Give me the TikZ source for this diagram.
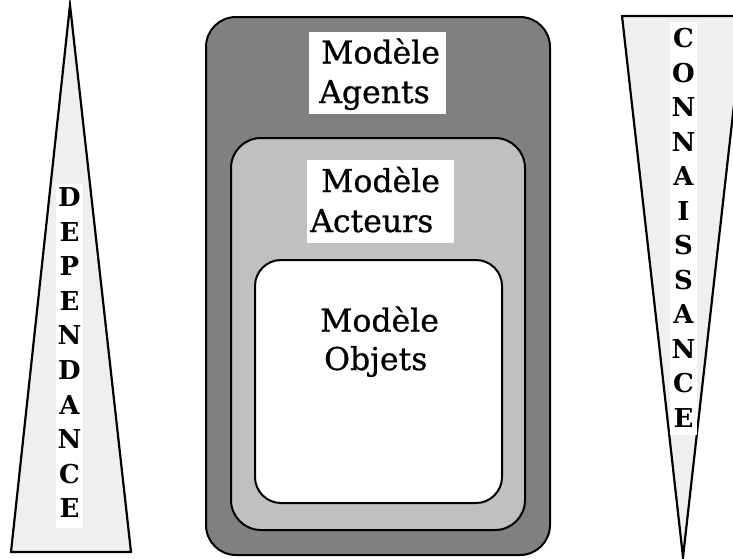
\documentclass[tikz,border=0pt]{standalone}
\usepackage{fontspec}
\setmainfont{DejaVu Serif}
\newfontfamily\lblfont{DejaVu Serif}[FakeBold=0.8]
\definecolor{gOuter}{RGB}{128,128,128}
\definecolor{gMiddle}{RGB}{192,192,192}
\definecolor{gTri}{RGB}{239,239,239}
\begin{document}
\begin{tikzpicture}[x=1pt,y=-1pt,
  frame/.style={draw=black, line width=2pt},
  tri/.style={draw=black, line width=2.2pt, fill=gTri},
  lbl/.style={font=\lblfont\fontsize{31.5}{40}\selectfont, inner sep=0pt, anchor=base west},
  letter/.style={font=\fontsize{26}{30}\selectfont\bfseries, inner sep=0pt, anchor=base}]
\useasboundingbox (0,0) rectangle (733,558);
\fill[white] (0,0) rectangle (733,558);
\clip (0,0) rectangle (733,558);

% triangles
\draw[tri] (70,5) -- (131,552) -- (11,552) -- cycle;
\draw[tri] (622,16) -- (744,16) -- (683,557) -- cycle;

% nested rounded boxes
\draw[frame, fill=gOuter, rounded corners=30pt] (206,17) rectangle (550,555);
\draw[frame, fill=gMiddle, rounded corners=30pt] (231,138) rectangle (525,530);
\draw[frame, fill=white, rounded corners=26pt] (255,260) rectangle (502,503);

% white label backgrounds
\fill[white] (309,32) rectangle (446,114);
\fill[white] (307,160) rectangle (454,243);
\fill[white] (56,184) rectangle (83,528);
\fill[white] (670,22) rectangle (697,435);

% labels
\node[lbl] (agM) at (321,63.5) {Modèle};
\node[lbl] (agA) at (319,103) {Agents};
\node[lbl] (acM) at (321,192) {Modèle};
\node[lbl] (acA) at (310,232) {Acteurs};
\node[lbl] (obM) at (320,331.5) {Modèle};
\node[lbl] (obO) at (324,370) {Objets};

% vertical words
\foreach \l [count=\i] in {D,E,P,E,N,D,A,N,C,E}
  \node[letter] (dep\i) at (69.5,{206.5+34.6*(\i-1)}) {\l};
\foreach \l [count=\i] in {C,O,N,N,A,I,S,S,A,N,C,E}
  \node[letter] (con\i) at (683.5,{47.5+34.5*(\i-1)}) {\l};
\end{tikzpicture}
\end{document}
